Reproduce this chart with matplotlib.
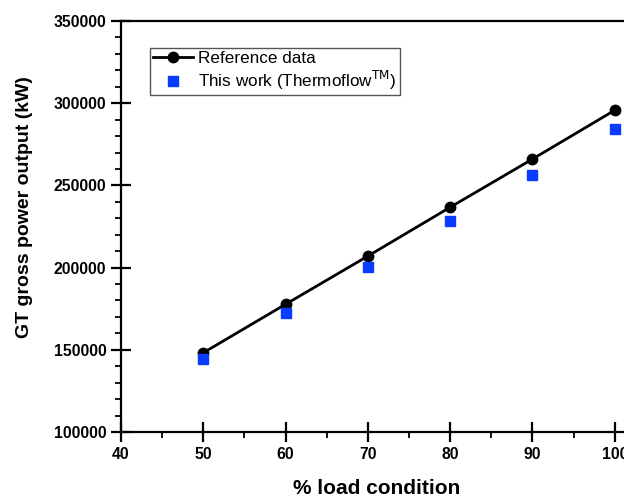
import numpy as np
import matplotlib
matplotlib.use("Agg")
import matplotlib.pyplot as plt
from matplotlib.ticker import MultipleLocator

load = [50, 60, 70, 80, 90, 100]
reference = [148200, 177700, 207000, 236700, 266000, 295700]
this_work = [144200, 172600, 200500, 228300, 256300, 284100]

plt.rcParams['font.family'] = ['Liberation Sans', 'DejaVu Sans']

fig = plt.figure(figsize=(6.24, 4.99), dpi=100)
# axes runs past the right edge of the figure, like the cropped original
ax = fig.add_axes([121/624, 1 - 432/499, 576/624, 411/499])

ax.plot(load, reference, color='black', lw=2, marker='o', ms=7.5,
        label='Reference data')
ax.plot(load, this_work, ls='none', marker='s', ms=6.5, color='#0a3cff',
        label='This work (Thermoflow$^{\\mathrm{TM}}$)')

ax.set_xlim(40, 110)
ax.set_ylim(100000, 350000)
ax.xaxis.set_major_locator(MultipleLocator(10))
ax.xaxis.set_minor_locator(MultipleLocator(5))
ax.yaxis.set_major_locator(MultipleLocator(50000))
ax.yaxis.set_minor_locator(MultipleLocator(10000))

for s in ax.spines.values():
    s.set_linewidth(1.6)
ax.tick_params(which='major', direction='inout', length=15, width=1.6,
               labelsize=11.3)
ax.tick_params(which='minor', direction='out', length=4, width=1.3)
ax.tick_params(axis='x', pad=3)
ax.tick_params(axis='y', pad=3)
for lab in ax.get_xticklabels() + ax.get_yticklabels():
    lab.set_fontweight('bold')

ax.set_xlabel('% load condition', fontsize=15, fontweight='bold')
ax.xaxis.set_label_coords(0.443, -0.115)
ax.set_ylabel('GT gross power output (kW)', fontsize=14, fontweight='bold')
ax.yaxis.set_label_coords(-0.153, 0.547)

leg = ax.legend(loc='upper left', bbox_to_anchor=(0.05, 0.935), fontsize=12.3,
                fancybox=False, framealpha=1, edgecolor='#555555',
                handlelength=2.3, handletextpad=0.35, borderpad=0.2,
                borderaxespad=0, labelspacing=0.15)
leg.get_frame().set_linewidth(1.0)

fig.savefig('out.png', dpi=100)
